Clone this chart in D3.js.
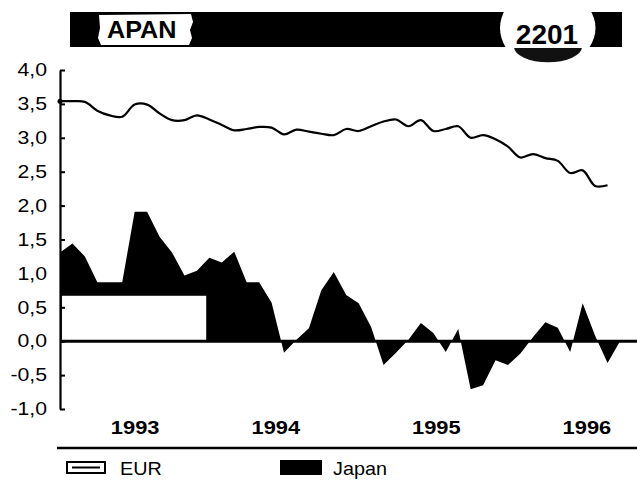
<!DOCTYPE html>
<html>
<head>
<meta charset="utf-8">
<script src="https://cdn.jsdelivr.net/npm/d3@7"></script>
<style>
  html, body { margin: 0; padding: 0; background: #fff; }
  svg { display: block; font-family: "Liberation Sans", Arial, sans-serif; }
</style>
</head>
<body>
<svg id="chart" width="637" height="480"></svg>
<script>
// ---- data (monthly, Jan 1993 .. Oct 1996) ----
const months = d3.range(46);
const eurValues = [
  3.54, 3.54, 3.53, 3.40, 3.33, 3.31, 3.49, 3.49, 3.36, 3.26,
  3.26, 3.33, 3.27, 3.19, 3.11, 3.13, 3.16, 3.15, 3.05, 3.12,
  3.09, 3.06, 3.04, 3.13, 3.10, 3.17, 3.24, 3.27, 3.17, 3.26,
  3.10, 3.13, 3.17, 3.00, 3.04, 2.98, 2.87, 2.71, 2.76, 2.70,
  2.66, 2.48, 2.52, 2.29, 2.30
];
const japanValues = [
  1.31, 1.44, 1.25, 0.87, 0.87, 0.87, 1.91, 1.91, 1.54, 1.31,
  0.97, 1.04, 1.23, 1.16, 1.32, 0.87, 0.87, 0.57, -0.17, 0.02,
  0.19, 0.75, 1.02, 0.68, 0.56, 0.21, -0.35, -0.17, 0.02, 0.27,
  0.12, -0.16, 0.18, -0.71, -0.65, -0.28, -0.35, -0.18, 0.06, 0.28,
  0.20, -0.16, 0.56, 0.08, -0.32, 0.00
];
const yearLabels = ["1993", "1994", "1995", "1996"];
const yearLabelMonth = [6, 17.3, 30.2, 42.3];
const yTicks = [-1, -0.5, 0, 0.5, 1, 1.5, 2, 2.5, 3, 3.5, 4];
const legendLabels = ["EUR", "Japan"];
const headerTitle = "APAN";
const headerCode = "2201";

// ---- layout ----
const svg = d3.select("#chart");
const x = d3.scaleLinear().domain([0, 45]).range([60, 620]);
const y = d3.scaleLinear().domain([-1, 4]).range([409, 70]);

// ---- header ----
const hdr = svg.append("g");
hdr.append("rect").attr("x", 70).attr("y", 12).attr("width", 552).attr("height", 35).attr("fill", "#000");
// ragged white label box
hdr.append("path")
  .attr("d", "M99,15 L191,14 L193,22 L190,30 L192,38 L189,45 L101,45 L98,38 L100,28 Z")
  .attr("fill", "#fff");
hdr.append("text").attr("x", 107).attr("y", 38)
  .attr("font-size", 24).attr("font-weight", "bold").attr("fill", "#000")
  .attr("transform", "translate(107,38) scale(1.05,1) translate(-107,-38)")
  .text(headerTitle);
// black semicircle below code box
hdr.append("path")
  .attr("d", d3.arc()({innerRadius: 0, outerRadius: 34, startAngle: Math.PI / 2, endAngle: Math.PI * 1.5}))
  .attr("transform", "translate(548,47) scale(1,0.45)")
  .attr("fill", "#111");
// white code box with rounded sides
hdr.append("path")
  .attr("d", "M506,8 L589,8 Q602,28 589,48 L506,48 Q494,28 506,8 Z")
  .attr("fill", "#fff");
hdr.append("text").attr("x", 547).attr("y", 44)
  .attr("text-anchor", "middle")
  .attr("font-size", 28).attr("font-weight", "bold").attr("fill", "#000")
  .text(headerCode);

// ---- Japan area ----
const area = d3.area()
  .x((d, i) => x(months[i]))
  .y0(y(0))
  .y1(d => y(d));
svg.append("path").datum(japanValues).attr("d", area).attr("fill", "#000");

// scanned white patch over the area (as in the reference)
svg.append("rect")
  .attr("x", x(0.15)).attr("y", y(0.67))
  .attr("width", x(11.75) - x(0.15)).attr("height", y(0) - y(0.67))
  .attr("fill", "#fff");

// zero line
svg.append("line")
  .attr("x1", x(0)).attr("x2", 637)
  .attr("y1", y(0)).attr("y2", y(0))
  .attr("stroke", "#000").attr("stroke-width", 3);

// ---- EUR line ----
const line = d3.line()
  .x((d, i) => x(months[i]))
  .y(d => y(d))
  .curve(d3.curveCatmullRom.alpha(0.5));
svg.append("path").datum(eurValues).attr("d", line)
  .attr("fill", "none").attr("stroke", "#000").attr("stroke-width", 2.2);
svg.append("circle").attr("cx", x(0)).attr("cy", y(eurValues[0])).attr("r", 2.5).attr("fill", "#000");

// ---- y axis ----
const yAxis = d3.axisLeft(y)
  .tickValues(yTicks)
  .tickSizeInner(-5).tickSizeOuter(0).tickPadding(12)
  .tickFormat(d => d3.format(".1f")(d).replace(".", ",").replace("−", "-"));
const ya = svg.append("g").attr("transform", `translate(${x(0)},0)`).call(yAxis);
ya.select(".domain").attr("stroke", "#000").attr("stroke-width", 2.2);
ya.selectAll(".tick line").attr("stroke", "#000").attr("stroke-width", 2);
ya.selectAll(".tick text")
  .attr("font-size", 18).attr("fill", "#000")
  .attr("font-family", "'Liberation Sans', Arial, sans-serif")
  .attr("x", 0)
  .attr("transform", "translate(-13,0) scale(1.18,1)");

// ---- year labels ----
const xAxis = d3.axisBottom(x)
  .tickValues(yearLabelMonth)
  .tickSize(0).tickPadding(0)
  .tickFormat((d, i) => yearLabels[i]);
const xa = svg.append("g").attr("transform", "translate(0,421)").call(xAxis);
xa.select(".domain").remove();
xa.selectAll(".tick text")
  .attr("font-size", 19).attr("font-weight", "bold").attr("fill", "#000")
  .attr("font-family", "'Liberation Sans', Arial, sans-serif")
  .attr("transform", "scale(1.15,1)");

// ---- legend ----
svg.append("line").attr("x1", 57).attr("x2", 637).attr("y1", 448).attr("y2", 448)
  .attr("stroke", "#000").attr("stroke-width", 2.5);
const lg = svg.append("g");
lg.append("rect").attr("x", 67).attr("y", 462).attr("width", 38).attr("height", 11)
  .attr("fill", "#fff").attr("stroke", "#000").attr("stroke-width", 2);
lg.append("line").attr("x1", 72).attr("x2", 100).attr("y1", 467.5).attr("y2", 467.5)
  .attr("stroke", "#000").attr("stroke-width", 2);
lg.append("text").attr("x", 0).attr("y", 0).attr("font-size", 18).attr("fill", "#000")
  .attr("transform", "translate(120,475) scale(1.1,1)").text(legendLabels[0]);
lg.append("rect").attr("x", 280).attr("y", 460).attr("width", 42).attr("height", 15).attr("fill", "#000");
lg.append("text").attr("x", 0).attr("y", 0).attr("font-size", 18).attr("fill", "#000")
  .attr("transform", "translate(333,475) scale(1.1,1)").text(legendLabels[1]);
</script>
</body>
</html>
